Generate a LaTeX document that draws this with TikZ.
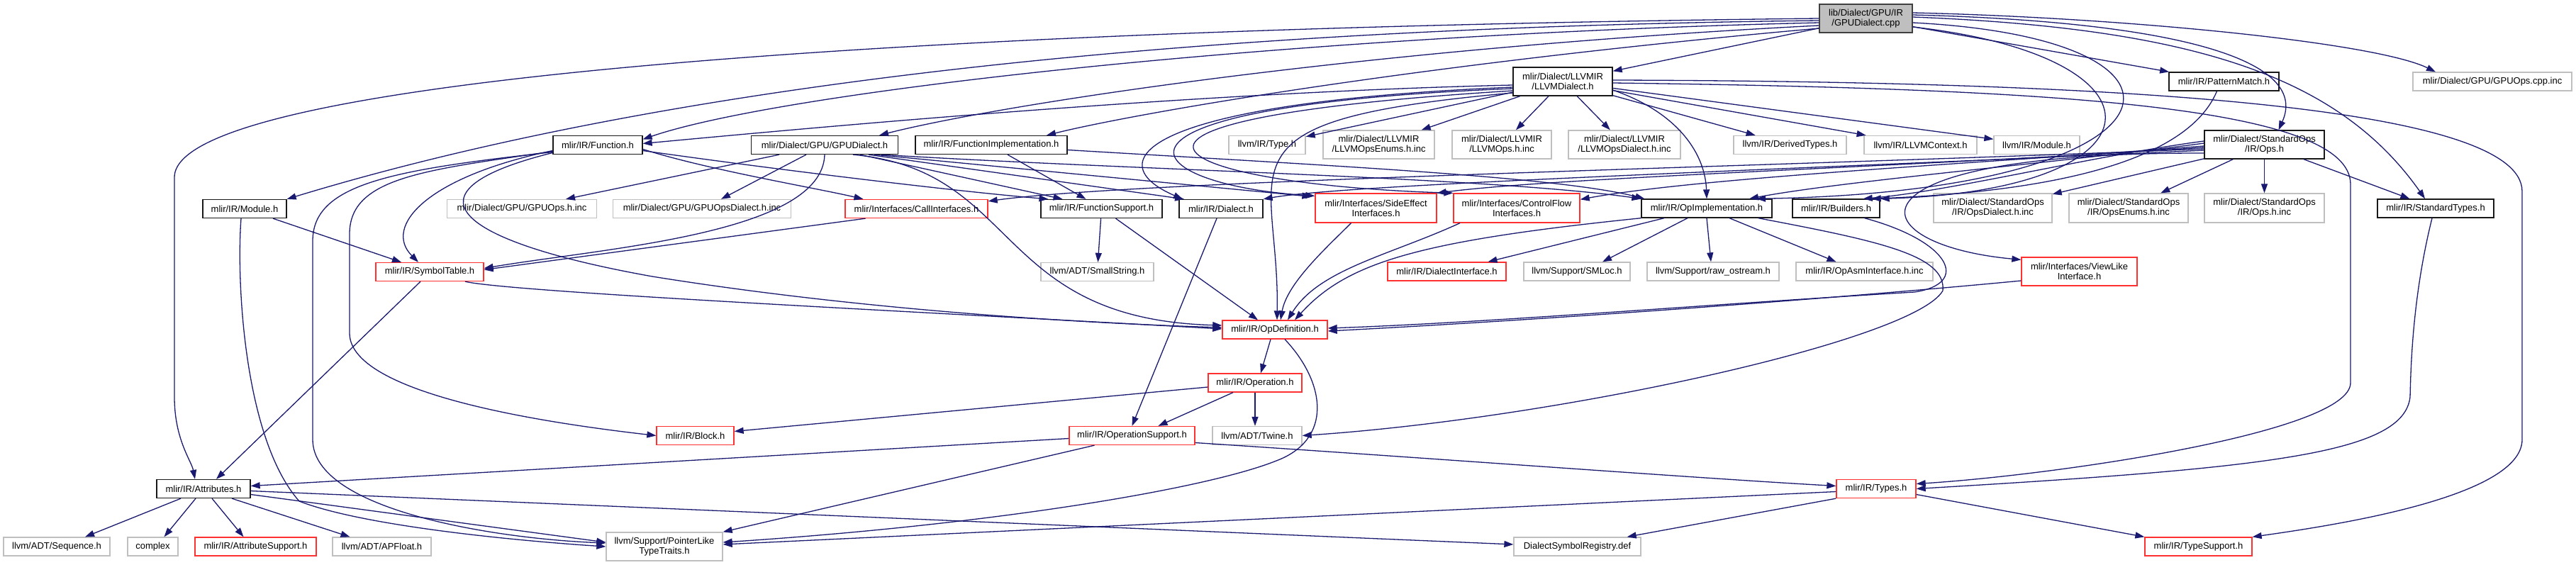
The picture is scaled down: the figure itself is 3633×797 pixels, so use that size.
\documentclass[tikz,border=0pt]{standalone}
\usepackage{fontspec}
\setmainfont{Liberation Sans}
\usetikzlibrary{arrows.meta}
\definecolor{edgec}{HTML}{191970}
\definecolor{grb}{HTML}{BFBFBF}
\definecolor{rdb}{HTML}{FF3030}
\newcommand\nd[7]{\node[#6, minimum width=#4pt, minimum height=#5pt] (#1) at (#2,#3) {#7};}
\begin{document}
\begin{tikzpicture}[x=1pt,y=-1pt,
 nb/.style={draw, rectangle, inner sep=0pt, align=center, font=\fontsize{13}{14}\selectfont, line width=1.3pt},
 blk/.style={nb, draw=black!90},
 gry/.style={nb, draw=grb},
 rd/.style={nb, draw=rdb},
 topn/.style={nb, draw=black!75, fill=grb},
 edg/.style={draw=edgec, line width=1.3pt, -{Triangle[length=13pt,width=9pt]}}]
\useasboundingbox[fill=white] (0,0) rectangle (3633,797);
% nodes
\nd{T}{2631.5}{26}{131}{40}{topn}{lib/Dialect/GPU/IR\\/GPUDialect.cpp}
\nd{llvmd}{2204}{115}{140}{40}{blk}{mlir/Dialect/LLVMIR\\/LLVMDialect.h}
\nd{patm}{3136.5}{115}{155}{26}{blk}{mlir/IR/PatternMatch.h}
\nd{gpuopscpp}{3515}{115}{224}{26}{gry}{mlir/Dialect/GPU/GPUOps.cpp.inc}
\nd{func}{843}{204.5}{126}{26}{blk}{mlir/IR/Function.h}
\nd{gpud}{1163}{204.5}{207}{26}{blk}{mlir/Dialect/GPU/GPUDialect.h}
\nd{funcimpl}{1398}{204.5}{214}{26}{blk}{mlir/IR/FunctionImplementation.h}
\nd{lltype}{1787}{204.5}{108}{26}{gry}{llvm/IR/Type.h}
\nd{enums}{1944.5}{204}{157}{40}{gry}{mlir/Dialect/LLVMIR\\/LLVMOpsEnums.h.inc}
\nd{llops}{2118}{204}{140}{40}{gry}{mlir/Dialect/LLVMIR\\/LLVMOps.h.inc}
\nd{llopsd}{2291}{204}{158}{40}{gry}{mlir/Dialect/LLVMIR\\/LLVMOpsDialect.h.inc}
\nd{derived}{2524.5}{204.5}{159}{26}{gry}{llvm/IR/DerivedTypes.h}
\nd{llctx}{2708.5}{204.5}{159}{26}{gry}{llvm/IR/LLVMContext.h}
\nd{llmod}{2872.5}{204.5}{121}{26}{gry}{llvm/IR/Module.h}
\nd{stdops}{3193.5}{204}{169}{40}{blk}{mlir/Dialect/StandardOps\\/IR/Ops.h}
\nd{module}{345}{294.5}{118}{26}{blk}{mlir/IR/Module.h}
\nd{gpuopsh}{736}{294.5}{211}{26}{gry}{mlir/Dialect/GPU/GPUOps.h.inc}
\nd{gpuopsd}{990}{294.5}{251}{26}{gry}{mlir/Dialect/GPU/GPUOpsDialect.h.inc}
\nd{callif}{1292.5}{294.5}{201}{26}{rd}{mlir/Interfaces/CallInterfaces.h}
\nd{funcsup}{1553.5}{294.5}{171}{26}{blk}{mlir/IR/FunctionSupport.h}
\nd{dialect}{1722}{294.5}{118}{26}{blk}{mlir/IR/Dialect.h}
\nd{sideeff}{1940.5}{293.5}{171}{41}{rd}{mlir/Interfaces/SideEffect\\Interfaces.h}
\nd{ctrlflow}{2139}{293.5}{178}{41}{rd}{mlir/Interfaces/ControlFlow\\Interfaces.h}
\nd{opimpl}{2407}{294}{184}{26}{blk}{mlir/IR/OpImplementation.h}
\nd{builders}{2589.5}{294}{123}{26}{blk}{mlir/IR/Builders.h}
\nd{opsdial}{2810.5}{293.5}{167}{41}{gry}{mlir/Dialect/StandardOps\\/IR/OpsDialect.h.inc}
\nd{opsenums}{3002}{293.5}{168}{41}{gry}{mlir/Dialect/StandardOps\\/IR/OpsEnums.h.inc}
\nd{opsinc}{3193.5}{293.5}{169}{41}{gry}{mlir/Dialect/StandardOps\\/IR/Ops.h.inc}
\nd{stdtypes}{3435}{294}{164}{26}{blk}{mlir/IR/StandardTypes.h}
\nd{symtab}{606}{383.5}{152}{26}{rd}{mlir/IR/SymbolTable.h}
\nd{smallstr}{1547.5}{383.5}{159}{26}{gry}{llvm/ADT/SmallString.h}
\nd{dialif}{2040.5}{383}{167}{26}{rd}{mlir/IR/DialectInterface.h}
\nd{smloc}{2224}{383}{150}{26}{gry}{llvm/Support/SMLoc.h}
\nd{rawos}{2416}{383}{186}{26}{gry}{llvm/Support/raw\_ostream.h}
\nd{opasm}{2629.5}{383}{193}{26}{gry}{mlir/IR/OpAsmInterface.h.inc}
\nd{viewlike}{2932.5}{383}{163}{40}{rd}{mlir/Interfaces/ViewLike\\Interface.h}
\nd{opdef}{1798}{465}{148}{26}{rd}{mlir/IR/OpDefinition.h}
\nd{operation}{1770}{540}{132}{26}{rd}{mlir/IR/Operation.h}
\nd{block}{980.5}{614.5}{109}{26}{rd}{mlir/IR/Block.h}
\nd{opsup}{1596.5}{614.5}{177}{26}{rd}{mlir/IR/OperationSupport.h}
\nd{twine}{1773}{614.5}{126}{26}{gry}{llvm/ADT/Twine.h}
\nd{attrs}{287}{689.5}{132}{26}{blk}{mlir/IR/Attributes.h}
\nd{types}{2646}{689.5}{112}{26}{rd}{mlir/IR/Types.h}
\nd{seq}{80}{771}{150}{26}{gry}{llvm/ADT/Sequence.h}
\nd{complex}{215.5}{771}{71}{26}{gry}{complex}
\nd{attrsup}{360.5}{771}{171}{26}{rd}{mlir/IR/AttributeSupport.h}
\nd{apfloat}{538.5}{771}{139}{26}{gry}{llvm/ADT/APFloat.h}
\nd{ptrlike}{937}{771}{164}{40}{gry}{llvm/Support/PointerLike\\TypeTraits.h}
\nd{dsr}{2224.5}{771}{179}{26}{gry}{DialectSymbolRegistry.def}
\nd{typesup}{3100.5}{771}{151}{26}{rd}{mlir/IR/TypeSupport.h}
% edges from top node
\draw[edg] (T) -- (llvmd);
\draw[edg] ([shift={(0,14)}]T.west) .. controls (2000,90) and (1600,160) .. ([shift={(78,0)}]funcimpl.north);
\draw[edg] ([shift={(0,10)}]T.west) .. controls (1900,70) and (1400,150) .. ([shift={(77,0)}]gpud.north);
\draw[edg] ([shift={(0,6)}]T.west) .. controls (1800,50) and (1100,130) .. ([shift={(0,-8)}]func.east);
\draw[edg] ([shift={(0,3)}]T.west) .. controls (1600,40) and (900,130) .. (module.north east);
\draw[edg] (T.west) .. controls (1300,40) and (246,110) .. (246,250) -- (246,560) .. controls (246,620) and (270,650) .. ([shift={(-12,0)}]attrs.north);
\draw[edg] (T) -- (patm);
\draw[edg] ([shift={(0,-8)}]T.east) .. controls (3000,25) and (3350,60) .. ([shift={(-80,0)}]gpuopscpp.north);
\draw[edg] ([shift={(0,-5)}]T.east) .. controls (3050,30) and (3260,80) .. ([shift={(20,0)}]stdops.north);
\draw[edg] ([shift={(0,-2)}]T.east) .. controls (3100,40) and (3300,110) .. ([shift={(-15,0)}]stdtypes.north);
\draw[edg] ([shift={(0,12)}]T.east) .. controls (3070,80) and (3060,268) .. (builders.north east);
\draw[edg] ([shift={(0,6)}]T.east) .. controls (3150,55) and (3090,270) .. ([shift={(70,0)}]opimpl.north);
% pattern match
\draw[edg] ([shift={(-10,0)}]patm.south) .. controls (3080,240) and (2850,272) .. ([shift={(-12,0)}]builders.north east);
% LLVMDialect
\draw[edg] (llvmd) -- (lltype);
\draw[edg] (llvmd) -- (enums);
\draw[edg] (llvmd) -- (llops);
\draw[edg] (llvmd) -- (llopsd);
\draw[edg] (llvmd) -- (derived);
\draw[edg] (llvmd) -- (llctx);
\draw[edg] (llvmd) -- (llmod);
\draw[edg] ([shift={(0,12)}]llvmd.east) .. controls (2370,160) and (2405,220) .. (opimpl.north);
\draw[edg] ([shift={(0,2)}]llvmd.east) .. controls (2900,125) and (3315,150) .. (3315,260) -- (3315,540) .. controls (3315,610) and (2900,670) .. ([shift={(0,-7)}]types.east);
\draw[edg] ([shift={(0,-2)}]llvmd.east) .. controls (3000,115) and (3557,150) .. (3557,270) -- (3557,620) .. controls (3557,700) and (3300,740) .. (typesup.north east);
\draw[edg] ([shift={(0,5)}]llvmd.west) .. controls (1700,130) and (1200,175) .. ([shift={(0,-2)}]func.east);
\draw[edg] ([shift={(0,8)}]llvmd.west) .. controls (1600,145) and (1550,230) .. ([shift={(-54,0)}]dialect.north);
\draw[edg] ([shift={(0,10)}]llvmd.west) .. controls (1500,150) and (1600,260) .. ([shift={(0,4)}]sideeff.north west);
\draw[edg] ([shift={(0,13)}]llvmd.west) .. controls (1450,170) and (1650,260) .. (ctrlflow.north west);
\draw[edg] ([shift={(0,16)}]llvmd.west) .. controls (1700,170) and (1805,230) .. ([shift={(3,0)}]opdef.north);
% Function.h
\draw[edg] ([shift={(0,6)}]func.east) .. controls (1000,240) and (1150,265) .. ([shift={(-75,0)}]callif.north);
\draw[edg] ([shift={(0,8)}]func.east) .. controls (1100,240) and (1350,270) .. ([shift={(-75,0)}]funcsup.north);
\draw[edg] ([shift={(0,8)}]func.west) .. controls (600,250) and (540,320) .. ([shift={(-16,0)}]symtab.north);
\draw[edg] ([shift={(0,9)}]func.west) .. controls (600,240) and (493,250) .. (493,330) -- (493,470) .. controls (493,560) and (800,600) .. (block.west);
\draw[edg] ([shift={(0,10)}]func.west) .. controls (550,240) and (441,260) .. (441,340) -- (441,620) .. controls (441,720) and (700,760) .. ([shift={(0,-5)}]ptrlike.west);
\draw[edg] ([shift={(0,11)}]func.west) .. controls (560,270) and (640,340) .. (920,390) .. controls (1200,435) and (1500,455) .. ([shift={(0,-3)}]opdef.west);
% Module.h
\draw[edg] (module) -- (symtab);
\draw[edg] ([shift={(-5,0)}]module.south) .. controls (333,400) and (345,620) .. (422,707) .. controls (520,745) and (760,765) .. (ptrlike.west);
% GPUDialect.h
\draw[edg] ([shift={(-64,0)}]gpud.south) -- ([shift={(62,0)}]gpuopsh.north);
\draw[edg] ([shift={(-26,0)}]gpud.south) -- ([shift={(27,0)}]gpuopsd.north);
\draw[edg] (gpud.south) .. controls (1160,330) and (850,350) .. ([shift={(0,-5)}]symtab.east);
\draw[edg] ([shift={(40,0)}]gpud.south) .. controls (1440,240) and (1400,450) .. ([shift={(0,-6)}]opdef.west);
\draw[edg] ([shift={(50,0)}]gpud.south) -- ([shift={(-55,0)}]funcsup.north);
\draw[edg] ([shift={(62,0)}]gpud.south) -- ([shift={(-52,0)}]dialect.north);
\draw[edg] ([shift={(70,0)}]gpud.south) -- ([shift={(-5,5)}]sideeff.north west);
\draw[edg] ([shift={(80,0)}]gpud.south) .. controls (1600,240) and (2100,250) .. (opimpl.north west);
% FunctionImplementation.h
\draw[edg] ([shift={(23,0)}]funcimpl.south) -- ([shift={(-22,0)}]funcsup.north);
\draw[edg] ([shift={(0,7)}]funcimpl.east) .. controls (1900,235) and (2200,250) .. ([shift={(5,0)}]opimpl.north west);
% CallInterfaces.h
\draw[edg] ([shift={(-72,0)}]callif.south) -- ([shift={(0,-3)}]symtab.east);
% FunctionSupport.h
\draw[edg] (funcsup) -- (smallstr);
\draw[edg] ([shift={(20,0)}]funcsup.south) -- ([shift={(-24,0)}]opdef.north);
% Dialect.h
\draw[edg] ([shift={(-6,0)}]dialect.south) -- (opsup.north);
% SymbolTable.h
\draw[edg] ([shift={(-13,0)}]symtab.south) -- ([shift={(18,0)}]attrs.north);
\draw[edg] ([shift={(50,0)}]symtab.south) .. controls (720,412) and (1300,440) .. ([shift={(0,-1)}]opdef.west);
% interfaces
\draw[edg] ([shift={(-35,0)}]sideeff.south) .. controls (1870,350) and (1815,400) .. ([shift={(8,0)}]opdef.north);
\draw[edg] ([shift={(-80,0)}]ctrlflow.south) .. controls (1960,360) and (1860,380) .. ([shift={(18,0)}]opdef.north);
% OpImplementation.h
\draw[edg] (opimpl.south west) .. controls (2000,340) and (1900,370) .. ([shift={(28,0)}]opdef.north);
\draw[edg] ([shift={(-60,0)}]opimpl.south) -- ([shift={(58,0)}]dialif.north);
\draw[edg] ([shift={(-27,0)}]opimpl.south) -- ([shift={(36,0)}]smloc.north);
\draw[edg] (opimpl.south) -- ([shift={(-3,0)}]rawos.north);
\draw[edg] ([shift={(32,0)}]opimpl.south) -- ([shift={(-40,0)}]opasm.north);
\draw[edg] ([shift={(-20,0)}]opimpl.south east) .. controls (2650,340) and (2745,360) .. (2740,410) .. controls (2700,480) and (2200,590) .. (twine.east);
% Builders.h
\draw[edg] ([shift={(40,0)}]builders.south) .. controls (2750,340) and (2780,400) .. (2700,412) .. controls (2400,430) and (2100,455) .. ([shift={(0,-2)}]opdef.east);
% ViewLike
\draw[edg] ([shift={(0,13)}]viewlike.west) .. controls (2600,420) and (2200,450) .. ([shift={(0,2)}]opdef.east);
% OpDefinition.h
\draw[edg] ([shift={(-6,0)}]opdef.south) -- ([shift={(8,0)}]operation.north);
\draw[edg] ([shift={(14,0)}]opdef.south) .. controls (1870,540) and (1880,620) .. (1800,650) .. controls (1700,690) and (1400,740) .. ([shift={(0,-6)}]ptrlike.east);
% Operation.h
\draw[edg] ([shift={(0,6)}]operation.west) -- ([shift={(0,-6)}]block.east);
\draw[edg] ([shift={(-31,0)}]operation.south) -- ([shift={(37,0)}]opsup.north);
\draw[edg] (operation.south) -- ([shift={(-3,0)}]twine.north);
% OperationSupport.h
\draw[edg] ([shift={(0,4)}]opsup.west) -- ([shift={(0,-4)}]attrs.east);
\draw[edg] ([shift={(-53,0)}]opsup.south) -- (ptrlike.north east);
\draw[edg] ([shift={(0,10)}]opsup.east) .. controls (2000,645) and (2400,675) .. ([shift={(0,-4)}]types.west);
% Attributes.h
\draw[edg] ([shift={(-32,0)}]attrs.south) -- ([shift={(40,0)}]seq.north);
\draw[edg] ([shift={(-11,0)}]attrs.south) -- ([shift={(16,0)}]complex.north);
\draw[edg] ([shift={(12,0)}]attrs.south) -- ([shift={(-17,0)}]attrsup.north);
\draw[edg] ([shift={(40,0)}]attrs.south) -- ([shift={(-45,0)}]apfloat.north);
\draw[edg] ([shift={(0,8)}]attrs.east) -- ([shift={(0,-6)}]ptrlike.west);
\draw[edg] ([shift={(0,3)}]attrs.east) -- ([shift={(0,-3)}]dsr.west);
% Types.h
\draw[edg] ([shift={(0,4)}]types.west) -- ([shift={(0,-3)}]ptrlike.east);
\draw[edg] (types.south west) -- ([shift={(-20,0)}]dsr.north east);
\draw[edg] ([shift={(0,8)}]types.east) -- (typesup.north west);
% StandardTypes.h
\draw[edg] ([shift={(-5,0)}]stdtypes.south) .. controls (3402,420) and (3400,520) .. (3399,560) .. controls (3390,640) and (3200,660) .. (types.east);
% StandardOps Ops.h
\draw[edg] (stdops) -- (opsdial);
\draw[edg] (stdops) -- (opsenums);
\draw[edg] (stdops) -- (opsinc);
\draw[edg] (stdops) -- (stdtypes);
\draw[edg] ([shift={(0,-5)}]stdops.west) .. controls (2950,220) and (2750,270) .. ([shift={(-24,0)}]builders.north east);
\draw[edg] ([shift={(0,-2)}]stdops.west) .. controls (2900,230) and (2600,255) .. ([shift={(60,0)}]opimpl.north);
\draw[edg] ([shift={(0,2)}]stdops.west) .. controls (2800,230) and (2400,250) .. ([shift={(0,9)}]ctrlflow.north east);
\draw[edg] ([shift={(0,4)}]stdops.west) .. controls (2700,235) and (2200,250) .. (sideeff.north east);
\draw[edg] ([shift={(0,6)}]stdops.west) .. controls (2500,235) and (1600,255) .. ([shift={(0,3)}]callif.north east);
\draw[edg] ([shift={(0,8)}]stdops.west) .. controls (2500,240) and (1900,260) .. (dialect.north east);
\draw[edg] ([shift={(0,12)}]stdops.west) .. controls (2580,215) and (2620,345) .. ([shift={(0,4)}]viewlike.north west);
\end{tikzpicture}
\end{document}
